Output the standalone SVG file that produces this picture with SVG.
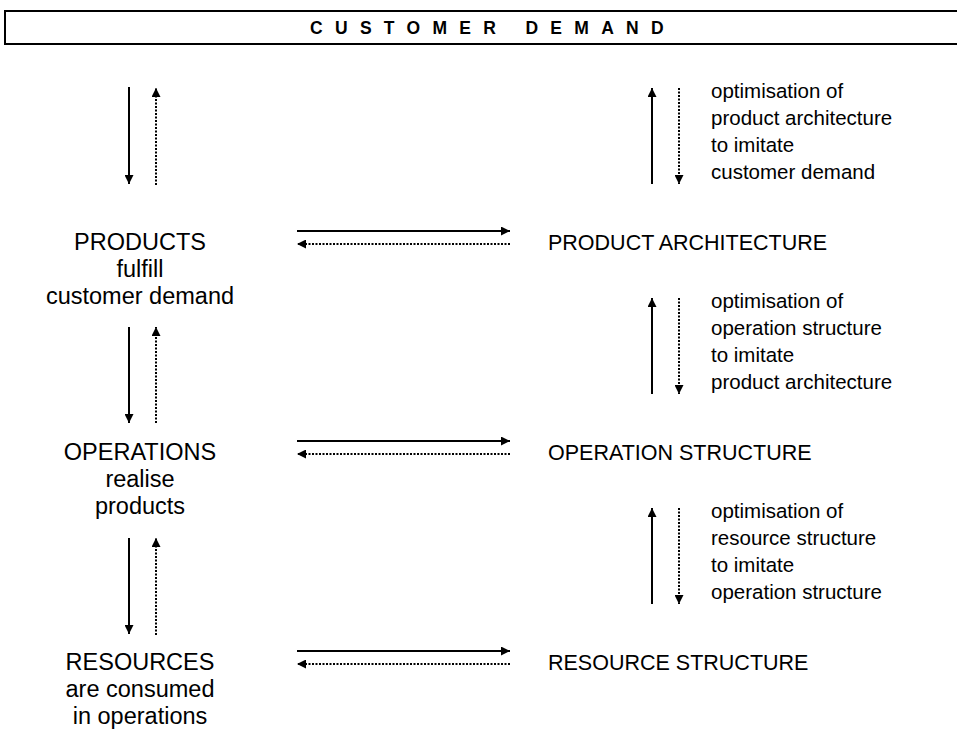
<svg xmlns="http://www.w3.org/2000/svg" width="957" height="735" viewBox="0 0 957 735">
<style>
.t{font-family:"Liberation Sans",Arial,sans-serif;fill:#000}
.n{font-size:23.5px}
.r{font-size:21.5px}
.l{font-size:20.5px}
.ttl{font-size:17.5px;font-weight:bold;letter-spacing:12.3px}
.s{stroke:#000;stroke-width:2;fill:none}
.d{stroke:#000;stroke-width:2;fill:none;stroke-dasharray:2 1.5}
</style>
<defs>
<marker id="ah" viewBox="0 0 10 10" refX="10" refY="5" markerWidth="9" markerHeight="9" markerUnits="userSpaceOnUse" orient="auto"><path d="M0,0 L10,5 L0,10 Z" fill="#000"/></marker>
</defs>
<g id="title">
<rect x="5" y="11" width="1000" height="33" fill="#fff" stroke="#000" stroke-width="2"/>
<text class="t ttl" x="310" y="34">CUSTOMER  DEMAND</text>
</g>
<g id="products"><text class="t n" text-anchor="middle"><tspan x="140" y="250">PRODUCTS</tspan><tspan x="140" y="277">fulfill</tspan><tspan x="140" y="304">customer demand</tspan></text></g>
<g id="operations"><text class="t n" text-anchor="middle"><tspan x="140" y="460">OPERATIONS</tspan><tspan x="140" y="487">realise</tspan><tspan x="140" y="514">products</tspan></text></g>
<g id="resources"><text class="t n" text-anchor="middle"><tspan x="140" y="670">RESOURCES</tspan><tspan x="140" y="697">are consumed</tspan><tspan x="140" y="724">in operations</tspan></text></g>
<g id="product-architecture"><text class="t r" x="548" y="250">PRODUCT ARCHITECTURE</text></g>
<g id="operation-structure"><text class="t r" x="548" y="460">OPERATION STRUCTURE</text></g>
<g id="resource-structure"><text class="t r" x="548" y="670">RESOURCE STRUCTURE</text></g>
<g id="label1"><text class="t l"><tspan x="711" y="98">optimisation of</tspan><tspan x="711" y="125">product architecture</tspan><tspan x="711" y="152">to imitate</tspan><tspan x="711" y="179">customer demand</tspan></text></g>
<g id="label2"><text class="t l"><tspan x="711" y="308">optimisation of</tspan><tspan x="711" y="335">operation structure</tspan><tspan x="711" y="362">to imitate</tspan><tspan x="711" y="389">product architecture</tspan></text></g>
<g id="label3"><text class="t l"><tspan x="711" y="518">optimisation of</tspan><tspan x="711" y="545">resource structure</tspan><tspan x="711" y="572">to imitate</tspan><tspan x="711" y="599">operation structure</tspan></text></g>
<g id="connectors">
<line class="s" x1="129" y1="87" x2="129" y2="184" marker-end="url(#ah)"/>
<line class="d" x1="156" y1="185" x2="156" y2="88" marker-end="url(#ah)"/>
<line class="s" x1="129" y1="327" x2="129" y2="423" marker-end="url(#ah)"/>
<line class="d" x1="156" y1="423" x2="156" y2="327" marker-end="url(#ah)"/>
<line class="s" x1="129" y1="538" x2="129" y2="634" marker-end="url(#ah)"/>
<line class="d" x1="156" y1="635" x2="156" y2="538" marker-end="url(#ah)"/>
<line class="s" x1="652" y1="184" x2="652" y2="88" marker-end="url(#ah)"/>
<line class="d" x1="679" y1="88" x2="679" y2="184" marker-end="url(#ah)"/>
<line class="s" x1="652" y1="394" x2="652" y2="298" marker-end="url(#ah)"/>
<line class="d" x1="679" y1="298" x2="679" y2="394" marker-end="url(#ah)"/>
<line class="s" x1="652" y1="604" x2="652" y2="508" marker-end="url(#ah)"/>
<line class="d" x1="679" y1="508" x2="679" y2="604" marker-end="url(#ah)"/>
<line class="s" x1="297" y1="231" x2="510" y2="231" marker-end="url(#ah)"/>
<line class="d" x1="510" y1="244" x2="297" y2="244" marker-end="url(#ah)"/>
<line class="s" x1="297" y1="441" x2="510" y2="441" marker-end="url(#ah)"/>
<line class="d" x1="510" y1="454" x2="297" y2="454" marker-end="url(#ah)"/>
<line class="s" x1="297" y1="651" x2="510" y2="651" marker-end="url(#ah)"/>
<line class="d" x1="510" y1="664" x2="297" y2="664" marker-end="url(#ah)"/>
</g>
</svg>
